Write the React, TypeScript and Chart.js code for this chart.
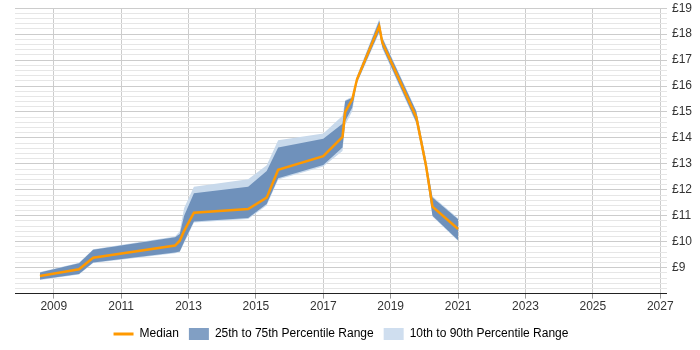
import React, { useEffect, useRef } from "react";
import { Chart, registerables } from "chart.js";

Chart.register(...registerables);

// Sample dates (decimal years) and daily rate percentiles in £
const years = [
  2008.59, 2009.75, 2010.17, 2012.6, 2012.74, 2012.87, 2013.16, 2014.77, 2015.32, 2015.66,
  2017.0, 2017.57, 2017.65, 2017.86, 2018.0, 2018.66, 2018.75, 2019.76, 2020.04, 2020.24, 2021.0,
];
const median = [
  8.68, 8.94, 9.38, 9.85, 10.04, 10.42, 11.12, 11.26, 11.7, 12.77,
  13.3, 14.04, 15.0, 15.49, 16.26, 18.3, 17.68, 14.8, 12.99, 11.35, 10.49,
];
const p25 = [
  8.54, 8.76, 9.2, 9.58, 9.62, 10.0, 10.78, 10.91, 11.45, 12.45,
  12.96, 13.63, 14.65, 15.17, 16.15, 18.1, 17.5, 14.6, 12.8, 11.0, 10.06,
];
const p75 = [
  8.81, 9.17, 9.69, 10.17, 10.3, 11.0, 11.87, 12.12, 12.73, 13.63,
  13.97, 14.55, 15.42, 15.55, 16.35, 18.52, 17.85, 15.02, 13.2, 11.7, 10.87,
];
const p10 = [
  8.52, 8.74, 9.18, 9.56, 9.6, 9.95, 10.74, 10.88, 11.4, 12.4,
  12.9, 13.5, 14.5, 15.04, 16.1, 18.05, 17.45, 14.55, 12.75, 10.97, 10.03,
];
const p90 = [
  8.83, 9.19, 9.71, 10.2, 10.4, 11.3, 12.12, 12.41, 12.95, 13.91,
  14.17, 14.85, 15.45, 15.6, 16.4, 18.58, 17.9, 15.06, 13.25, 11.75, 10.9,
];

const xTickYears = [2009, 2011, 2013, 2015, 2017, 2019, 2021, 2023, 2025, 2027];
const yMin = 8;
const yMax = 19;
const seriesLabels = ["Median", "25th to 75th Percentile Range", "10th to 90th Percentile Range"];

const ORANGE = "#ff9900";
const DARK_BAND = "#6f91bb";
const LIGHT_BAND = "#c8d9eb";
const DARK_KEY = "#819fc4";
const LIGHT_KEY = "#cfdeef";
const FONT = "'Liberation Sans', Arial, sans-serif";

const pts = (vals: number[]) => years.map((x, i) => ({ x, y: vals[i] }));

export default function App() {
  const canvasRef = useRef<HTMLCanvasElement | null>(null);

  useEffect(() => {
    if (!canvasRef.current) return;
    const band = { pointRadius: 0, borderWidth: 0, tension: 0 };
    const chart = new Chart(canvasRef.current, {
      type: "line",
      data: {
        datasets: [
          { ...band, label: "p10", data: pts(p10), fill: false, order: 3, borderColor: "rgba(0,0,0,0)" },
          { ...band, label: "p90", data: pts(p90), fill: "-1", order: 3, backgroundColor: LIGHT_BAND, borderColor: "rgba(0,0,0,0)" },
          { ...band, label: "p25", data: pts(p25), fill: false, order: 2, borderColor: "rgba(0,0,0,0)" },
          { ...band, label: "p75", data: pts(p75), fill: "-1", order: 2, backgroundColor: DARK_BAND, borderColor: "rgba(0,0,0,0)" },
          {
            label: seriesLabels[0],
            data: pts(median),
            fill: false,
            order: 1,
            borderColor: ORANGE,
            borderWidth: 2.5,
            pointRadius: 0,
            tension: 0,
          },
        ],
      },
      options: {
        animation: false,
        responsive: false,
        layout: { padding: { left: 15, right: 3, top: 0, bottom: 0 } },
        plugins: {
          tooltip: { enabled: false },
          legend: {
            position: "bottom",
            fullSize: false,
            labels: {
              usePointStyle: true,
              pointStyleWidth: 20,
              boxWidth: 20,
              boxHeight: 12,
              padding: 10,
              color: "#333",
              font: { family: FONT, size: 12 },
              generateLabels: () => [
                { text: seriesLabels[0], pointStyle: "line", fillStyle: ORANGE, strokeStyle: ORANGE, lineWidth: 3, hidden: false, datasetIndex: 4 },
                { text: seriesLabels[1], pointStyle: "rect", fillStyle: DARK_KEY, strokeStyle: DARK_KEY, lineWidth: 0, hidden: false, datasetIndex: 3 },
                { text: seriesLabels[2], pointStyle: "rect", fillStyle: LIGHT_KEY, strokeStyle: LIGHT_KEY, lineWidth: 0, hidden: false, datasetIndex: 1 },
              ],
            },
          },
        },
        scales: {
          x: {
            type: "linear",
            min: 2007.85,
            max: 2027.2,
            afterBuildTicks: (scale: any) => {
              scale.ticks = xTickYears.map((v) => ({ value: v }));
            },
            afterFit: (scale: any) => {
              scale.height += 3;
            },
            ticks: {
              autoSkip: false,
              maxRotation: 0,
              color: "#333",
              font: { family: FONT, size: 12 },
              padding: 1,
              callback: (v: any) => String(v),
            },
            grid: { color: "#cccccc", tickLength: 5, tickColor: "#999" },
            border: { display: true, color: "#222", width: 1 },
          },
          y: {
            type: "linear",
            position: "right",
            min: yMin,
            max: yMax,
            afterBuildTicks: (scale: any) => {
              const t: { value: number }[] = [];
              for (let i = yMin * 5; i <= yMax * 5; i++) t.push({ value: i / 5 });
              scale.ticks = t;
            },
            ticks: {
              autoSkip: false,
              color: "#333",
              padding: 5,
              font: { family: FONT, size: 12 },
              callback: (v: any) => {
                const n = Number(v);
                return Math.abs(n - Math.round(n)) < 1e-6 && n > yMin ? "£" + Math.round(n) : "";
              },
            },
            grid: {
              drawTicks: false,
              color: (ctx: any) => {
                const n = ctx.tick ? ctx.tick.value : 0;
                return Math.abs(n - Math.round(n)) < 1e-6 ? "#cccccc" : "#e6e6e6";
              },
            },
            border: { display: false },
          },
        },
      },
    } as any);
    return () => chart.destroy();
  }, []);

  return (
    <div style={{ position: "fixed", left: 0, top: -4, width: 700, height: 354, background: "#fff" }}>
      <canvas ref={canvasRef} width={700} height={354} style={{ display: "block" }} />
    </div>
  );
}
